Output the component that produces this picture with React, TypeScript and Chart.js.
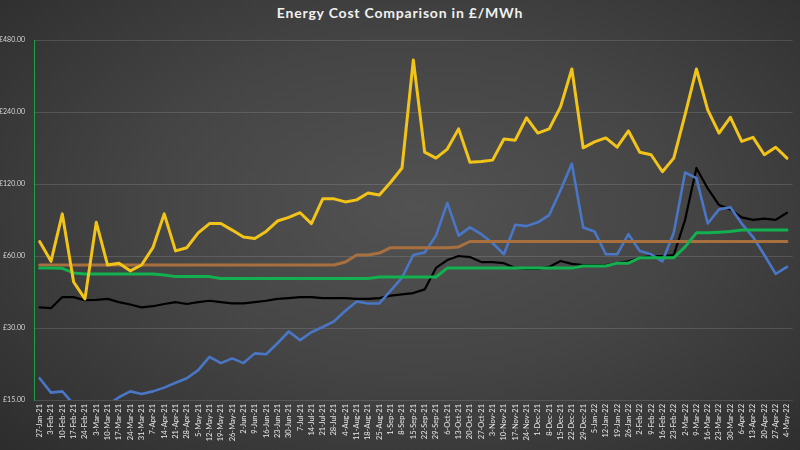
import React, { useEffect, useRef } from "react";
import { Chart, registerables } from "chart.js";

Chart.register(...registerables);

const weeks = [
  "27-Jan-21", "3-Feb-21", "10-Feb-21", "17-Feb-21", "24-Feb-21", "3-Mar-21", "10-Mar-21", "17-Mar-21",
  "24-Mar-21", "31-Mar-21", "7-Apr-21", "14-Apr-21", "21-Apr-21", "28-Apr-21", "5-May-21", "12-May-21",
  "19-May-21", "26-May-21", "2-Jun-21", "9-Jun-21", "16-Jun-21", "23-Jun-21", "30-Jun-21", "7-Jul-21",
  "14-Jul-21", "21-Jul-21", "28-Jul-21", "4-Aug-21", "11-Aug-21", "18-Aug-21", "25-Aug-21", "1-Sep-21",
  "8-Sep-21", "15-Sep-21", "22-Sep-21", "29-Sep-21", "6-Oct-21", "13-Oct-21", "20-Oct-21", "27-Oct-21",
  "3-Nov-21", "10-Nov-21", "17-Nov-21", "24-Nov-21", "1-Dec-21", "8-Dec-21", "15-Dec-21", "22-Dec-21",
  "29-Dec-21", "5-Jan-22", "12-Jan-22", "19-Jan-22", "26-Jan-22", "2-Feb-22", "9-Feb-22", "16-Feb-22",
  "23-Feb-22", "2-Mar-22", "9-Mar-22", "16-Mar-22", "23-Mar-22", "30-Mar-22", "6-Apr-22", "13-Apr-22",
  "20-Apr-22", "27-Apr-22", "4-May-22",
];

const yTickValues = [15, 30, 60, 120, 240, 480];

const yellowSeries = [
  69, 57, 90, 46.7, 39.7, 83, 55, 56, 52, 55, 65, 90, 63, 65, 75, 82, 82, 77, 72, 71, 76, 84, 87, 91,
  82, 104, 104, 101, 103, 110, 108, 122, 140, 396, 163, 154, 168, 204, 148, 149, 151, 185, 183, 227,
  196, 204, 252, 363, 170, 180, 187, 171, 200, 163, 159, 135, 154, 234, 363, 245, 196, 228, 181, 188,
  159, 171, 154,
];

const blueSeries = [
  18.5, 16.1, 16.3, 14.4, 13.5, 13.8, 14.3, 15.4, 16.3, 15.9, 16.3, 16.9, 17.7, 18.5, 20, 22.7, 21.4,
  22.4, 21.4, 23.5, 23.3, 25.9, 29, 26.7, 28.8, 30.3, 32, 35.4, 38.7, 38, 38, 43, 48.7, 60.6, 62, 73,
  100, 73, 79, 74, 68, 61, 81, 80, 83, 89, 113, 146, 79, 76, 61, 61, 74, 63, 61, 57, 75, 134, 127, 82,
  94, 96, 82, 72, 60.6, 50.5, 54,
];

const blackSeries = [
  36.6, 36.3, 40.4, 40.4, 39.2, 39.3, 39.7, 38.5, 37.6, 36.6, 37, 37.8, 38.5, 37.8, 38.5, 39, 38.5, 38,
  38, 38.5, 39, 39.7, 40, 40.4, 40.4, 40, 40, 40, 39.7, 39.7, 40, 41, 41.5, 42, 43.5, 53.5, 57.7, 60,
  59.4, 56.6, 56.6, 56, 53.5, 53, 53, 54, 57.2, 55.6, 55, 55, 55, 56, 57, 59, 60, 60, 60.5, 85, 140, 115,
  98, 94, 87, 85, 86, 85, 91,
];

const brownSeries = [
  55, 55, 55, 55, 55, 55, 55, 55, 55, 55, 55, 55, 55, 55, 55, 55, 55, 55, 55, 55, 55, 55, 55, 55, 55,
  55, 55, 56.6, 60.6, 60.6, 61.7, 65, 65, 65, 65, 65, 65, 65.5, 69, 69, 69, 69, 69, 69, 69, 69, 69, 69,
  69, 69, 69, 69, 69, 69, 69, 69, 69, 69, 69, 69, 69, 69, 69, 69, 69, 69, 69,
];

const greenSeries = [
  53.5, 53.5, 53.3, 51, 50.5, 50.5, 50.5, 50.5, 50.5, 50.5, 50.5, 50, 49.2, 49.2, 49.2, 49.2, 48.3,
  48.3, 48.3, 48.3, 48.3, 48.3, 48.3, 48.3, 48.3, 48.3, 48.3, 48.3, 48.3, 48.3, 49, 49, 49, 49, 49, 49,
  53.4, 53.4, 53.4, 53.4, 53.4, 53.4, 53.4, 53.4, 53.4, 53.4, 53.4, 53.4, 54.5, 54.5, 54.5, 56, 56, 59,
  59, 59, 59, 65.5, 75, 75, 75.5, 76, 77, 77, 77, 77, 77,
];

export default function App() {
  const canvasRef = useRef<HTMLCanvasElement | null>(null);

  useEffect(() => {
    document.body.style.margin = "0";
    const canvas = canvasRef.current;
    if (!canvas) return;
    const mk = (data: number[], color: string, width: number) => ({
      data,
      borderColor: color,
      backgroundColor: color,
      borderWidth: width,
      borderJoinStyle: "round" as const,
      borderCapStyle: "round" as const,
      pointRadius: 0,
      pointHoverRadius: 0,
      tension: 0,
      fill: false,
    });
    const chart = new Chart(canvas, {
      type: "line",
      data: {
        labels: weeks,
        datasets: [
          mk(yellowSeries, "#f2c418", 3),
          mk(greenSeries, "#12b04e", 3),
          mk(brownSeries, "#a8703e", 3),
          mk(blueSeries, "#4a76c6", 2.6),
          mk(blackSeries, "#000000", 2.2),
        ],
      },
      options: {
        animation: false,
        responsive: false,
        layout: { padding: { top: 40, right: 1, left: 0, bottom: 0 } },
        plugins: {
          legend: { display: false },
          title: { display: false },
          tooltip: { enabled: false },
        },
        scales: {
          x: {
            offset: true,
            afterFit: (s: any) => {
              s.height = 50;
            },
            ticks: {
              color: "#e8e8e8",
              font: { family: "Lato", size: 7.5 },
              autoSkip: false,
              maxRotation: 90,
              minRotation: 90,
              padding: 4,
            },
            grid: { display: false, drawTicks: false },
            border: { display: false },
          },
          y: {
            type: "logarithmic",
            min: 15,
            max: 480,
            afterBuildTicks: (s: any) => {
              s.ticks = yTickValues.map((v) => ({ value: v }));
            },
            afterFit: (s: any) => {
              s.width = 34;
            },
            ticks: {
              color: "#d6d6d6",
              font: { family: "Lato", size: 7 },
              padding: 9,
              callback: (v: any) => "£" + Number(v).toFixed(2),
            },
            grid: { color: "rgba(255,255,255,0.13)", drawTicks: false, lineWidth: 1 },
            border: { display: true, color: "#1f9e4a", width: 1 },
          },
        },
      },
    });
    return () => chart.destroy();
  }, []);

  return (
    <div
      style={{
        position: "relative",
        width: 800,
        height: 450,
        overflow: "hidden",
        background:
          "radial-gradient(ellipse 75% 80% at 52% 46%, #525252 0%, #454545 45%, #2b2b2b 100%)",
      }}
    >
      <div
        style={{
          position: "absolute",
          top: 4,
          left: 0,
          width: 800,
          textAlign: "center",
          font: "bold 14px Lato, 'Open Sans', sans-serif",
          letterSpacing: "0.8px",
          color: "#f0f0f0",
        }}
      >
        Energy Cost Comparison in £/MWh
      </div>
      <canvas ref={canvasRef} width={800} height={450} style={{ position: "absolute", left: 0, top: 0 }} />
    </div>
  );
}
